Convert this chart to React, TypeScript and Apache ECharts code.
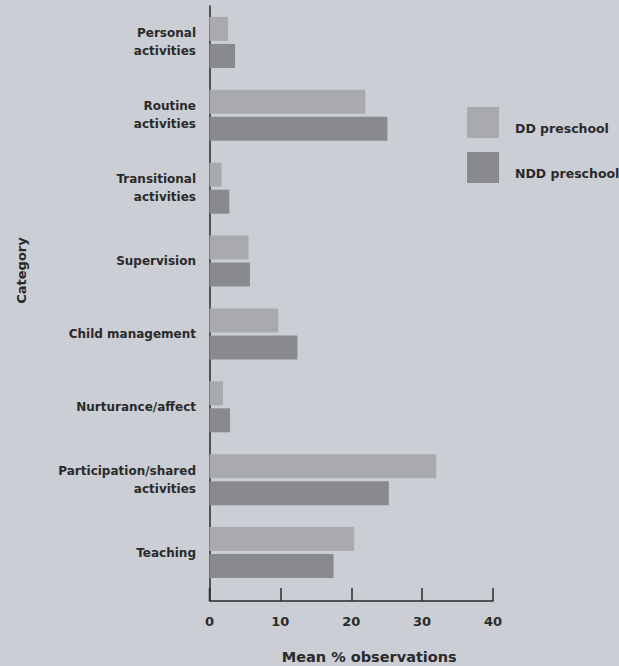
import React, { useEffect, useRef } from "react";
import * as echarts from "echarts";

const categories = [
  "Personal\nactivities",
  "Routine\nactivities",
  "Transitional\nactivities",
  "Supervision",
  "Child management",
  "Nurturance/affect",
  "Participation/shared\nactivities",
  "Teaching",
];
const ddPreschool = [2.6, 22.0, 1.7, 5.5, 9.7, 1.9, 32.0, 20.4];
const nddPreschool = [3.6, 25.1, 2.8, 5.7, 12.4, 2.9, 25.3, 17.5];
const seriesNames = ["DD preschool", "NDD preschool"];
const xTicks = [0, 10, 20, 30, 40];

const FONT = "'DejaVu Sans', sans-serif";
const TEXT = "#2a2a2a";

export default function App() {
  const ref = useRef<HTMLDivElement>(null);
  useEffect(() => {
    if (!ref.current) return;
    const chart = echarts.init(ref.current, undefined, { renderer: "svg" });
    chart.setOption({
      animation: false,
      backgroundColor: "#cbced4",
      textStyle: { fontFamily: FONT },
      grid: {
        left: 209.5,
        top: 6,
        height: 583,
        right: 126,
        containLabel: false,
        outerBoundsMode: "none",
      },
      legend: {
        orient: "vertical",
        left: 462,
        top: 102,
        itemWidth: 32,
        itemHeight: 31,
        itemGap: 14,
        icon: "rect",
        data: seriesNames,
        formatter: "{a|{name}}",
        textStyle: {
          fontFamily: FONT,
          fontWeight: "bold",
          fontSize: 12.5,
          color: TEXT,
          rich: {
            a: {
              fontFamily: FONT,
              fontWeight: "bold",
              fontSize: 12.5,
              color: TEXT,
              padding: [12, 0, 0, 11],
            },
          },
        },
      },
      xAxis: {
        type: "value",
        min: xTicks[0],
        max: xTicks[xTicks.length - 1],
        interval: 10,
        offset: 12,
        splitLine: { show: false },
        axisLine: { show: true, lineStyle: { color: TEXT, width: 1.5 } },
        axisTick: { show: true, inside: true, length: 13, lineStyle: { color: TEXT, width: 1.5 } },
        axisLabel: { color: TEXT, fontWeight: "bold", fontSize: 13, margin: 14, fontFamily: FONT },
        name: "Mean % observations",
        nameLocation: "middle",
        nameGap: 48,
        nameTextStyle: {
          color: TEXT,
          fontWeight: "bold",
          fontSize: 14.5,
          fontFamily: FONT,
          padding: [0, 0, 0, 36],
        },
      },
      yAxis: {
        type: "category",
        data: categories,
        inverse: true,
        axisLine: { show: true, lineStyle: { color: TEXT, width: 1.5 } },
        axisTick: { show: false },
        axisLabel: {
          color: TEXT,
          fontWeight: "bold",
          fontSize: 12,
          lineHeight: 18,
          margin: 13.5,
          align: "right",
          fontFamily: FONT,
        },
        name: "Category",
        nameLocation: "middle",
        nameGap: 182,
        nameRotate: 90,
        nameTextStyle: {
          color: TEXT,
          fontWeight: "bold",
          fontSize: 13,
          fontFamily: FONT,
          padding: [0, 0, 0, 54],
        },
      },
      graphic: [
        {
          type: "line",
          shape: { x1: 209.5, y1: 588, x2: 209.5, y2: 601 },
          style: { stroke: TEXT, lineWidth: 1.5 },
        },
      ],
      series: [
        {
          name: seriesNames[0],
          type: "bar",
          data: ddPreschool,
          barWidth: 24,
          barGap: "12.5%",
          itemStyle: { color: "#a8aaae" },
        },
        {
          name: seriesNames[1],
          type: "bar",
          data: nddPreschool,
          barWidth: 24,
          itemStyle: { color: "#888a8e" },
        },
      ],
    });
    return () => chart.dispose();
  }, []);
  return (
    <div
      ref={ref}
      style={{ position: "absolute", left: 0, top: 0, width: 619, height: 666 }}
    />
  );
}
